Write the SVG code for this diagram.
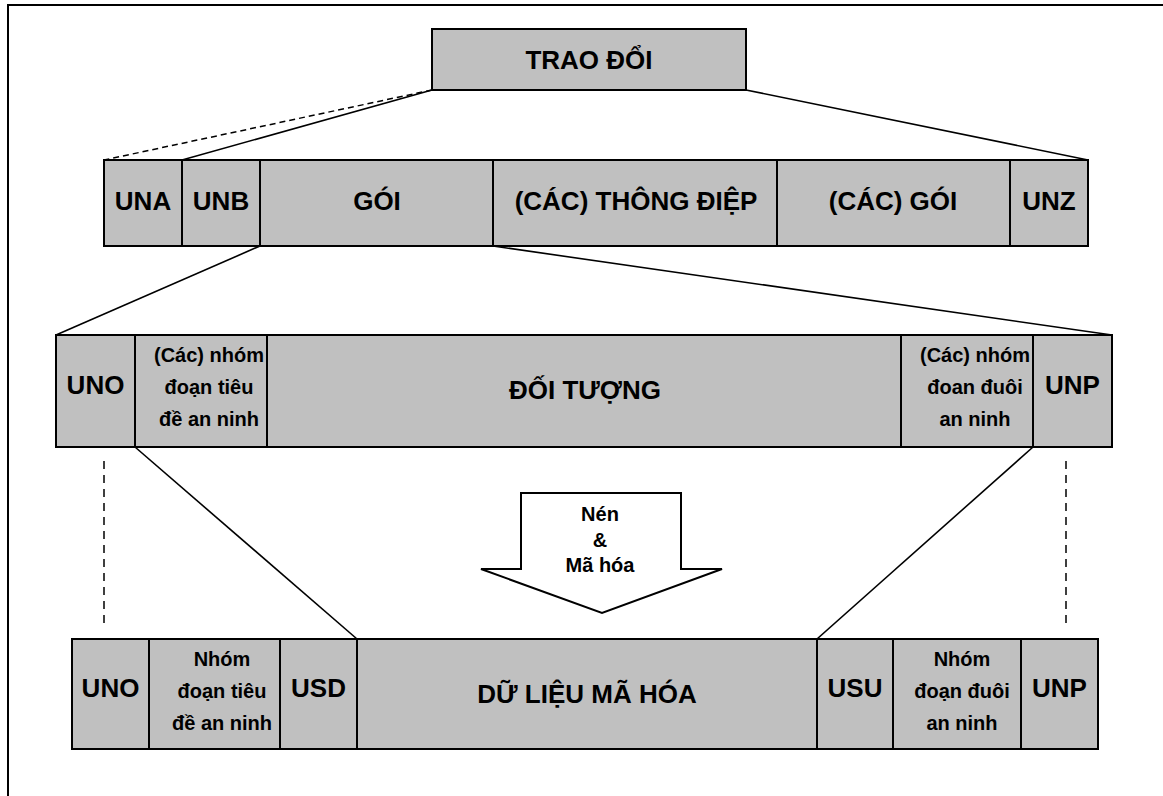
<svg xmlns="http://www.w3.org/2000/svg" width="1163" height="796" viewBox="0 0 1163 796">
  <style>
    .cell { fill: #c0c0c0; stroke: #000; stroke-width: 2; }
    .lbl { font-family: "Liberation Sans", Arial, sans-serif; font-weight: bold; font-size: 26px; fill: #000; text-anchor: middle; }
    .sm { font-size: 20px; }
    .ln { stroke: #000; stroke-width: 1.6; fill: none; }
    .dash { stroke: #000; stroke-width: 1.5; fill: none; stroke-dasharray: 6 4; }
    .vdash { stroke: #000; stroke-width: 1.5; fill: none; stroke-dasharray: 8 6; }
    .frame { stroke: #000; stroke-width: 2; fill: none; }
  </style>

  <rect x="0" y="0" width="1163" height="796" fill="#fff"/>

  <!-- outer frame (left and top edges) -->
  <path class="frame" d="M8 796 V5 H1163"/>

  <!-- connectors -->
  <g id="connectors">
    <line class="dash" x1="432" y1="90" x2="104" y2="160"/>
    <line class="ln" x1="432" y1="90" x2="182" y2="160"/>
    <line class="ln" x1="746" y1="90" x2="1088" y2="160"/>
    <line class="ln" x1="260" y1="246" x2="56" y2="335"/>
    <line class="ln" x1="493" y1="246" x2="1112" y2="335"/>
    <line class="ln" x1="135" y1="447" x2="357" y2="639"/>
    <line class="ln" x1="1033" y1="447" x2="817" y2="639"/>
    <line class="vdash" x1="104" y1="461" x2="104" y2="624"/>
    <line class="vdash" x1="1066" y1="461" x2="1066" y2="624"/>
  </g>

  <!-- top node -->
  <g id="trao-doi">
    <rect class="cell" x="432" y="29" width="314" height="61"/>
    <text class="lbl" x="589" y="69">TRAO ĐỔI</text>
  </g>

  <!-- interchange row -->
  <g id="row-interchange">
    <g id="una"><rect class="cell" x="104" y="160" width="78" height="86"/><text class="lbl" x="143" y="210">UNA</text></g>
    <g id="unb"><rect class="cell" x="182" y="160" width="78" height="86"/><text class="lbl" x="221" y="210">UNB</text></g>
    <g id="goi"><rect class="cell" x="260" y="160" width="233" height="86"/><text class="lbl" x="377" y="210">GÓI</text></g>
    <g id="thong-diep"><rect class="cell" x="493" y="160" width="284" height="86"/><text class="lbl" x="636" y="210">(CÁC) THÔNG ĐIỆP</text></g>
    <g id="cac-goi"><rect class="cell" x="777" y="160" width="233" height="86"/><text class="lbl" x="893" y="210">(CÁC) GÓI</text></g>
    <g id="unz"><rect class="cell" x="1010" y="160" width="78" height="86"/><text class="lbl" x="1049" y="210">UNZ</text></g>
  </g>

  <!-- package row -->
  <g id="row-package">
    <g id="uno-1"><rect class="cell" x="56" y="335" width="79" height="112"/><text class="lbl" x="95.5" y="394">UNO</text></g>
    <g id="header-1">
      <rect class="cell" x="135" y="335" width="132" height="112"/>
      <text class="lbl sm" x="209" y="362">(Các) nhóm</text>
      <text class="lbl sm" x="209" y="394">đoạn tiêu</text>
      <text class="lbl sm" x="209" y="426">đề an ninh</text>
    </g>
    <g id="doi-tuong"><rect class="cell" x="267" y="335" width="634" height="112"/><text class="lbl" x="585" y="399">ĐỐI TƯỢNG</text></g>
    <g id="trailer-1">
      <rect class="cell" x="901" y="335" width="132" height="112"/>
      <text class="lbl sm" x="975" y="362">(Các) nhóm</text>
      <text class="lbl sm" x="975" y="394">đoan đuôi</text>
      <text class="lbl sm" x="975" y="426">an ninh</text>
    </g>
    <g id="unp-1"><rect class="cell" x="1033" y="335" width="79" height="112"/><text class="lbl" x="1072.5" y="394">UNP</text></g>
  </g>

  <!-- compression / encryption arrow -->
  <g id="arrow">
    <polygon points="521,493 681,493 681,569 722,569 602,613 481,569 521,569" fill="#fff" stroke="#000" stroke-width="2" stroke-linejoin="miter"/>
    <text class="lbl sm" x="600" y="521">Nén</text>
    <text class="lbl sm" x="600" y="547">&amp;</text>
    <text class="lbl sm" x="600" y="572">Mã hóa</text>
  </g>

  <!-- encrypted row -->
  <g id="row-encrypted">
    <g id="uno-2"><rect class="cell" x="72" y="639" width="77" height="110"/><text class="lbl" x="110.5" y="697">UNO</text></g>
    <g id="header-2">
      <rect class="cell" x="149" y="639" width="131" height="110"/>
      <text class="lbl sm" x="222" y="666">Nhóm</text>
      <text class="lbl sm" x="222" y="698">đoạn tiêu</text>
      <text class="lbl sm" x="222" y="730">đề an ninh</text>
    </g>
    <g id="usd"><rect class="cell" x="280" y="639" width="77" height="110"/><text class="lbl" x="318.5" y="697">USD</text></g>
    <g id="du-lieu"><rect class="cell" x="357" y="639" width="460" height="110"/><text class="lbl" x="587" y="703">DỮ LIỆU MÃ HÓA</text></g>
    <g id="usu"><rect class="cell" x="817" y="639" width="76" height="110"/><text class="lbl" x="855" y="697">USU</text></g>
    <g id="trailer-2">
      <rect class="cell" x="893" y="639" width="128" height="110"/>
      <text class="lbl sm" x="962" y="666">Nhóm</text>
      <text class="lbl sm" x="962" y="698">đoạn đuôi</text>
      <text class="lbl sm" x="962" y="730">an ninh</text>
    </g>
    <g id="unp-2"><rect class="cell" x="1021" y="639" width="77" height="110"/><text class="lbl" x="1059.5" y="697">UNP</text></g>
  </g>
</svg>
